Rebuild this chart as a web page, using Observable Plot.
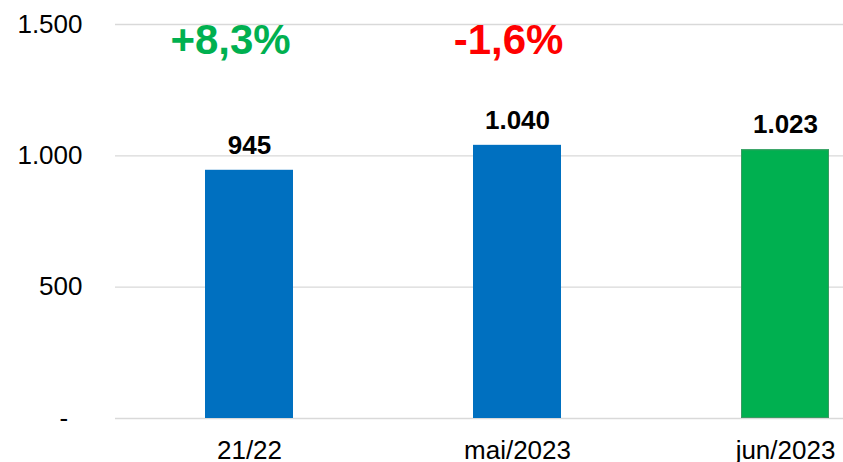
<!DOCTYPE html>
<html>
<head>
<meta charset="utf-8">
<script src="https://cdn.jsdelivr.net/npm/d3@7"></script>
<script src="https://cdn.jsdelivr.net/npm/@observablehq/plot@0.6"></script>
<style>
  html, body { margin: 0; padding: 0; background: #fff; }
  #chart svg { display: block; }
</style>
</head>
<body>
<div id="chart"></div>
<script>
const categories = ["21/22", "mai/2023", "jun/2023"];
const values = [945, 1040, 1023];
const barColors = ["#0070C0", "#0070C0", "#00B050"];
const changeCategories = ["21/22", "mai/2023"];
const changeLabels = ["+8,3%", "-1,6%"];
const changeColors = ["#00B050", "#FF0000"];
const yTicks = [0, 500, 1000, 1500];

const locale = d3.formatLocale({decimal: ",", thousands: ".", grouping: [3], currency: ["R$", ""]});
const fmt = locale.format(",d");

const bars = categories.map((c, i) => ({cat: c, value: values[i], color: barColors[i]}));
const changes = changeCategories.map((c, i) => ({cat: c, label: changeLabels[i], color: changeColors[i]}));
const changeOffsets = [-19, -9];

const W = 843, H = 462;
const chart = Plot.plot({
  width: W,
  height: H,
  marginLeft: 115,
  marginRight: 0,
  marginTop: 24,
  marginBottom: 44,
  style: {fontFamily: "'Liberation Sans', Arial, sans-serif", fontSize: "26px", color: "#000", background: "#fff", overflow: "hidden"},
  x: {domain: categories, range: [115, 919], paddingInner: 0.672, paddingOuter: 0.336, align: 0.5, label: null},
  y: {domain: [0, 1500], label: null},
  marks: [
    Plot.ruleY(yTicks, {stroke: "#d9d9d9", strokeWidth: 1.3}),
    Plot.barY(bars, {x: "cat", y: "value", fill: "color"}),
    Plot.barY(bars.filter(d => d.color === "#00B050"), {x: "cat", y: "value", fill: "none", stroke: "#3a9a62", strokeWidth: 1, inset: 0.5}),
    Plot.text(bars, {x: "cat", y: "value", text: d => fmt(d.value), dy: -25, fontWeight: "bold", fontSize: 26, fill: "#000"}),
    ...changes.map((c, i) => Plot.text([c], {x: "cat", y: () => 1500, text: "label", fill: "color", fontWeight: "bold", fontSize: 42, dx: changeOffsets[i], dy: 16})),
    Plot.axisY({ticks: yTicks, tickSize: 0, tickPadding: 33, tickFormat: d => d === 0 ? "-  " : fmt(d), fontSize: 26, label: null}),
    Plot.axisX({tickSize: 0, tickPadding: 22, fontSize: 26, label: null})
  ]
});
document.getElementById("chart").appendChild(chart);
</script>
</body>
</html>
